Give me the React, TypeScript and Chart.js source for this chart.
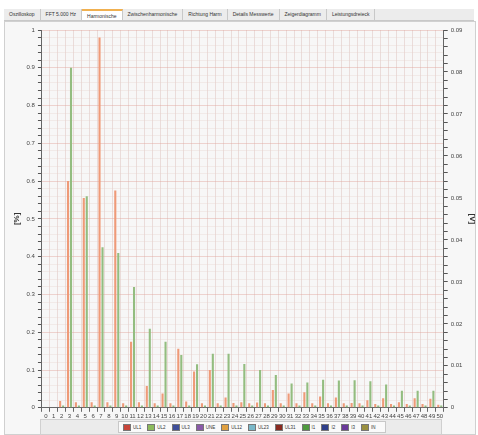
import React, { useEffect, useRef } from "react";
import { Chart, registerables } from "chart.js";

Chart.register(...registerables);

const harmonics: string[] = Array.from({ length: 51 }, (_, i) => String(i));

const ul1: number[] = [
  0, 0, 0.018, 0.6, 0.015, 0.555, 0.015, 0.98, 0.015, 0.575,
  0.012, 0.175, 0.015, 0.058, 0.012, 0.038, 0.012, 0.156, 0.017, 0.096,
  0.012, 0.1, 0.012, 0.027, 0.013, 0.015, 0.012, 0.014, 0.012, 0.047,
  0.012, 0.038, 0.012, 0.041, 0.012, 0.03, 0.012, 0.027, 0.012, 0.013,
  0.012, 0.02, 0.01, 0.025, 0.01, 0.015, 0.01, 0.025, 0.01, 0.024, 0.008,
];

const ul2: number[] = [
  0, 0, 0.006, 0.9, 0.006, 0.56, 0.006, 0.425, 0.006, 0.41,
  0.006, 0.32, 0.006, 0.209, 0.006, 0.175, 0.006, 0.14, 0.006, 0.115,
  0.006, 0.143, 0.006, 0.143, 0.006, 0.116, 0.006, 0.1, 0.006, 0.087,
  0.006, 0.064, 0.006, 0.067, 0.006, 0.074, 0.006, 0.072, 0.006, 0.073,
  0.006, 0.07, 0.006, 0.062, 0.006, 0.045, 0.006, 0.045, 0.006, 0.045, 0.006,
];

const tabs: string[] = [
  "Oszilloskop", "FFT 5.000 Hz", "Harmonische", "Zwischenharmonische",
  "Richtung Harm", "Details Messwerte", "Zeigerdiagramm", "Leistungsdreieck",
];

const legendNames: string[] = ["UL1", "UL2", "UL3", "UNE", "UL12", "UL23", "UL31", "I1", "I2", "I3", "IN"];
const legendColors: string[] = ["#c8463a", "#8dbb5c", "#3f4f9a", "#8a5aa8", "#e0a040", "#7ab8c8", "#8a2a20", "#4f9a3f", "#2f3f8a", "#6a3a9a", "#9a9040"];

const FONT = "'Liberation Sans', Arial, sans-serif";

export default function App() {
  const ref = useRef<HTMLCanvasElement | null>(null);

  useEffect(() => {
    if (!ref.current) return;
    const isMajor = (v: number, step: number) => Math.abs(v / step - Math.round(v / step)) < 1e-6;
    const chart = new Chart(ref.current, {
      type: "bar",
      data: {
        labels: harmonics,
        datasets: [
          { label: "UL1", data: ul1, backgroundColor: "#ef9a78", yAxisID: "y", categoryPercentage: 0.76, barPercentage: 0.7 },
          { label: "UL2", data: ul2, backgroundColor: "#93bd80", yAxisID: "y", categoryPercentage: 0.76, barPercentage: 0.7 },
        ],
      },
      options: {
        animation: false,
        responsive: false,
        maintainAspectRatio: false,
        layout: { padding: { top: 8, left: 2, right: 1, bottom: 0 } },
        plugins: { legend: { display: false }, tooltip: { enabled: false } },
        scales: {
          x: {
            grid: {
              color: "rgba(215,180,175,0.4)",
              lineWidth: 1,
              offset: true,
              drawTicks: true,
              tickLength: 4,
              tickColor: "#666",
            },
            border: { color: "#666" },
            ticks: {
              autoSkip: false,
              maxRotation: 0,
              minRotation: 0,
              padding: 1,
              color: "#444",
              font: { size: 6, family: FONT },
            },
          },
          y: {
            position: "left",
            min: 0,
            max: 1,
            ticks: {
              stepSize: 0.02,
              autoSkip: false,
              color: "#444",
              padding: 3,
              font: { size: 6, family: FONT },
              callback: (v: any) => {
                const n = Number(v);
                if (!isMajor(n, 0.1)) return "";
                if (n === 0) return "0";
                if (Math.abs(n - 1) < 1e-6) return "1";
                return n.toFixed(1);
              },
            },
            grid: {
              color: (ctx: any) => (ctx.tick && isMajor(ctx.tick.value, 0.1) ? "rgba(225,165,155,0.45)" : "rgba(225,200,195,0.28)"),
              tickColor: "#555",
              tickLength: 4,
            },
            border: { color: "#666" },
            title: { display: true, text: "[%]", color: "#333", font: { size: 8, weight: "bold", family: FONT }, padding: 2 },
          },
          y2: {
            position: "right",
            display: true,
            min: 0,
            max: 0.09,
            ticks: {
              stepSize: 0.002,
              autoSkip: false,
              color: "#444",
              padding: 3,
              font: { size: 6, family: FONT },
              callback: (v: any) => {
                const n = Number(v);
                if (!isMajor(n, 0.01)) return "";
                if (n === 0) return "0";
                return n.toFixed(2);
              },
            },
            grid: { drawOnChartArea: false, tickColor: "#555", tickLength: 4 },
            border: { color: "#666" },
            title: { display: true, text: "[V]", color: "#333", font: { size: 8, weight: "bold", family: FONT }, padding: 2 },
          },
        },
      } as any,
    });
    return () => chart.destroy();
  }, []);

  return (
    <div style={{ position: "fixed", left: 0, top: 0, width: 478, height: 435, background: "#ffffff", fontFamily: FONT, overflow: "hidden" }}>
      <div style={{ position: "absolute", left: 4, top: 9, width: 470, height: 11, background: "#ececec", borderBottom: "1px solid #c8c8c8", display: "flex" }}>
        {tabs.map((t, i) => (
          <div
            key={t}
            style={{
              fontSize: 5,
              lineHeight: "10px",
              padding: "0 5px",
              color: "#333",
              background: i === 2 ? "#ffffff" : "#ececec",
              borderRight: "1px solid #c8c8c8",
              borderTop: i === 2 ? "2px solid #f0b050" : "none",
              whiteSpace: "nowrap",
            }}
          >
            {t}
          </div>
        ))}
      </div>
      <div style={{ position: "absolute", left: 4, top: 21, width: 470, height: 412, background: "#f7f7f7", border: "1px solid #d0d0d0" }} />
      <canvas ref={ref} width={472} height={399} style={{ position: "absolute", left: 8, top: 22, width: 472, height: 399 }} />
      <div style={{ position: "absolute", left: 40, top: 419, width: 400, height: 14, background: "#ebebeb", border: "1px solid #d0d0d0" }} />
      <div style={{ position: "absolute", left: 118, top: 421, height: 10, display: "flex", alignItems: "center", background: "#fafafa", border: "1px solid #c8c8c8", padding: "0 4px" }}>
        {legendNames.map((n, i) => (
          <div key={n} style={{ display: "flex", alignItems: "center", marginRight: 6, fontSize: 4.5, color: "#333" }}>
            <span style={{ display: "inline-block", width: 6, height: 5, background: legendColors[i], border: "1px solid #777", marginRight: 2 }} />
            {n}
          </div>
        ))}
      </div>
    </div>
  );
}
